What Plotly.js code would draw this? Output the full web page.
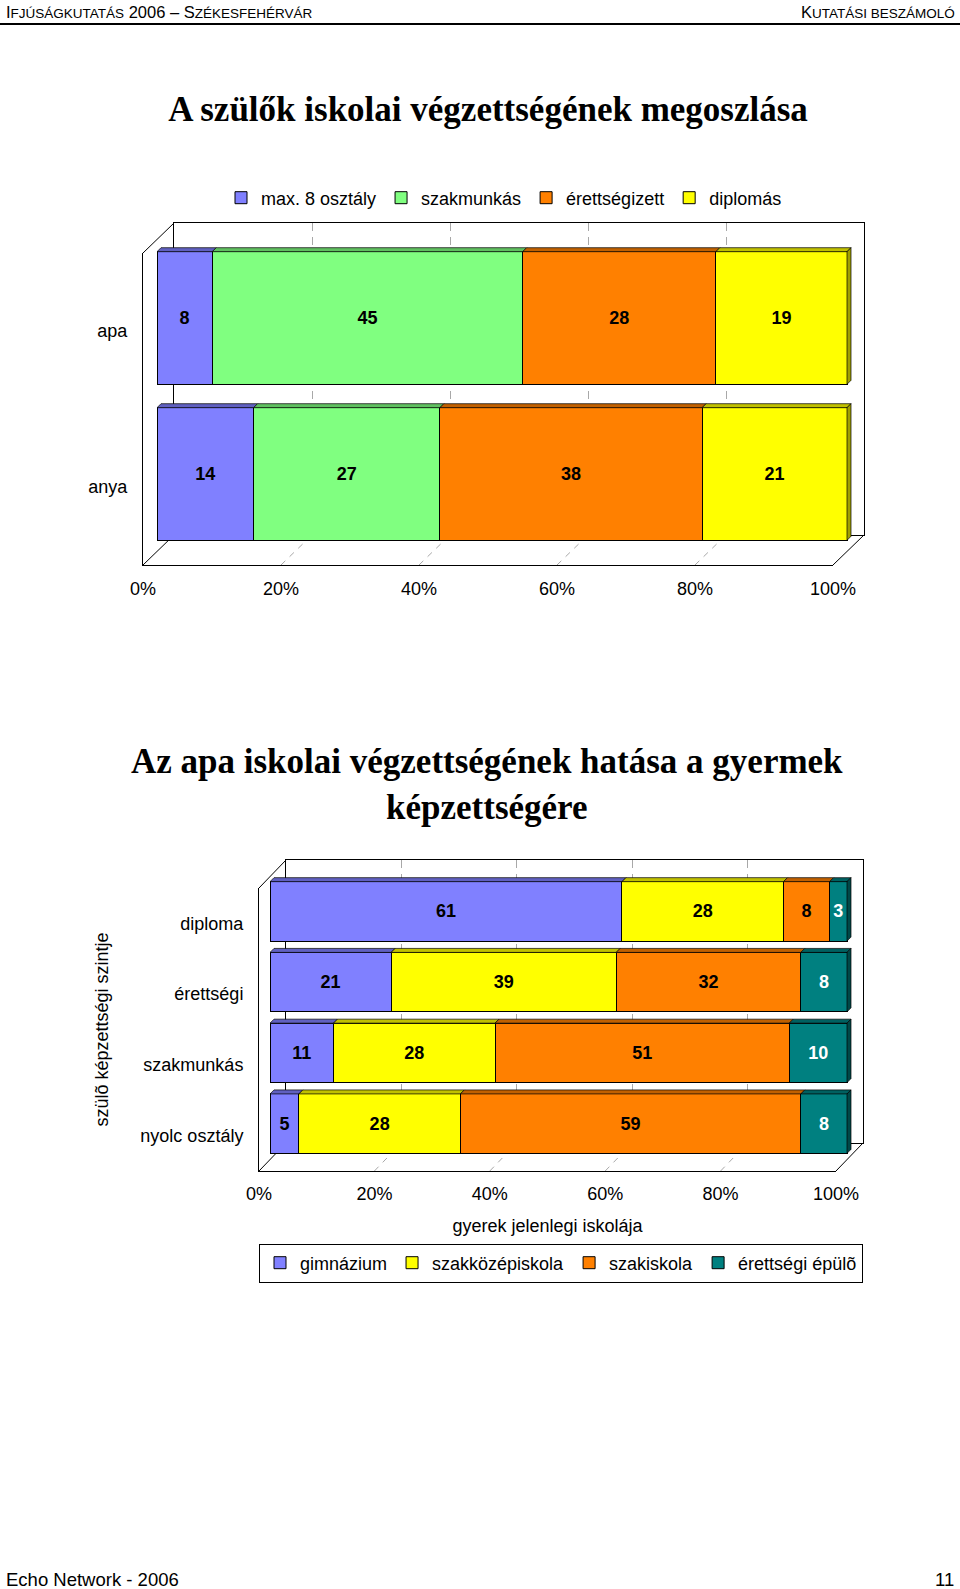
<!DOCTYPE html>
<html><head><meta charset="utf-8">
<script src="https://cdn.plot.ly/plotly-3.0.1.min.js"></script>
<style>html,body{margin:0;padding:0;background:#fff}</style>
</head><body><div id="chart" style="width:960px;height:1589px"></div>
<script>
// ---------------- data ----------------
const parents = ['apa', 'anya'];
const parentSeries = ['max. 8 osztály', 'szakmunkás', 'érettségizett', 'diplomás'];
const max8 = [8, 14];
const szakmunkas = [45, 27];
const erettsegizett = [28, 38];
const diplomas = [19, 21];

const parentLevels = ['diploma', 'érettségi', 'szakmunkás', 'nyolc osztály'];
const childSeries = ['gimnázium', 'szakközépiskola', 'szakiskola', 'érettségi épülõ'];
const gimnazium = [61, 21, 11, 5];
const szakkozep = [28, 39, 28, 28];
const szakiskola = [8, 32, 51, 59];
const erettsegiEpulo = [3, 8, 10, 8];

const pctTicks = [0, 20, 40, 60, 80, 100];
const pctLabels = ['0%', '20%', '40%', '60%', '80%', '100%'];

// ---------------- styling / geometry ----------------
const W = 960, H = 1589;
const px = v => v / W, py = v => 1 - v / H;
const SANS = 'Liberation Sans, Arial, sans-serif';
const SERIF = 'Liberation Serif, Times New Roman, serif';

const G1 = {back:{x0:174,x1:864,y0:223,y1:535}, front:{x0:143,x1:833,y0:253,y1:565}, bars:{x0:157,x1:847,y0:240,y1:552}, barW:0.85, ids:[1,2,3], legend:'legend', xStand:7};
const G2 = {back:{x0:286,x1:863,y0:860,y1:1143}, front:{x0:259,x1:836,y0:888,y1:1171}, bars:{x0:270,x1:847,y0:876,y1:1159}, barW:0.84, ids:[4,5,6], legend:'legend2', xStand:6};
const DEPTH = 4, EXT = 8;
const GRID = '#a8a8a8';

const C = {
  blue:  {f:'#8080FF', t:'#6060C0', s:'#5050A0'},
  green: {f:'#80FF80', t:'#60C060', s:'#50A050'},
  orange:{f:'#FF8000', t:'#C06000', s:'#A05000'},
  yellow:{f:'#FFFF00', t:'#C0C000', s:'#A0A000'},
  teal:  {f:'#008080', t:'#006060', s:'#004848'}
};

const xk = n => n === 1 ? 'xaxis' : 'xaxis' + n;
const yk = n => n === 1 ? 'yaxis' : 'yaxis' + n;
const xid = n => n === 1 ? 'x' : 'x' + n;
const yid = n => n === 1 ? 'y' : 'y' + n;

const data = [];
const layout = {
  width: W, height: H, margin:{l:0,r:0,t:0,b:0},
  paper_bgcolor:'#fff', plot_bgcolor:'rgba(0,0,0,0)',
  barmode:'stack', showlegend:true,
  font:{family:SANS, size:18, color:'#000'},
  title:{text:'A szülők iskolai végzettségének megoszlása', x:px(488), xanchor:'center', y:py(109), yanchor:'middle',
         font:{family:SERIF, size:35, weight:700, color:'#000'}},
  shapes:[], annotations:[]
};

// invisible helper trace so that a frame/label subplot is created and drawn
function anchorTrace(b, xs, ys) {
  data.push({type:'scatter', mode:'markers', x:xs, y:ys, xaxis:xid(b), yaxis:yid(b),
    marker:{opacity:0, size:1}, showlegend:false, hoverinfo:'skip'});
}

function buildChart(G, cats, names, series, cols, txtCols) {
  const [b, bb, f] = G.ids;
  const n = cats.length;
  const pos = cats.map((c, i) => n - 1 - i);
  const unitX = (G.bars.x1 - G.bars.x0) / 100;
  const unitY = (G.bars.y1 - G.bars.y0) / n;
  // back wall (grid + frame)
  layout[xk(b)] = {domain:[px(G.back.x0), px(G.back.x1)], range:[0,100], anchor:yid(b), tickvals:pctTicks,
    showticklabels:false, ticks:'', showgrid:true, gridcolor:GRID, griddash:'8px,6px', gridwidth:1,
    showline:true, mirror:true, linecolor:'#000', linewidth:1, zeroline:false, fixedrange:true};
  layout[yk(b)] = {domain:[py(G.back.y1), py(G.back.y0)], range:[0,1], anchor:xid(b), showgrid:false,
    showticklabels:false, ticks:'', showline:true, mirror:true, linecolor:'#000', linewidth:1, zeroline:false, fixedrange:true};
  anchorTrace(b, [pctTicks[0]], [0]);
  // bars
  layout[xk(bb)] = {domain:[px(G.bars.x0), px(G.bars.x1 + EXT)], range:[0, 100 + EXT / unitX], anchor:yid(bb), visible:false, fixedrange:true};
  layout[yk(bb)] = {domain:[py(G.bars.y1), py(G.bars.y0)], range:[-0.5, n - 0.5], anchor:xid(bb), visible:false, fixedrange:true};
  // front plane: tick labels + front edges
  layout[xk(f)] = {domain:[px(G.front.x0), px(G.front.x1)], range:[0,100], anchor:yid(f), tickvals:pctTicks, ticktext:pctLabels,
    ticks:'', showgrid:false, zeroline:false, showline:true, linecolor:'#000', linewidth:1,
    tickfont:{family:SANS, size:18, color:'#000'}, ticklabelstandoff:G.xStand, fixedrange:true};
  layout[yk(f)] = {domain:[py(G.front.y1), py(G.front.y0)], range:[-0.5, n - 0.5], anchor:xid(f), tickvals:pos, ticktext:cats,
    ticks:'', showgrid:false, zeroline:false, showline:true, linecolor:'#000', linewidth:1,
    tickfont:{family:SANS, size:18, color:'#000'}, ticklabelstandoff:11, fixedrange:true};
  anchorTrace(f, [pctTicks[0]], [pos[0]]);

  series.forEach((vals, i) => {
    data.push({type:'bar', orientation:'h', name:names[i], x:vals, y:pos, width:G.barW,
      xaxis:xid(bb), yaxis:yid(bb), legend:G.legend,
      marker:{color:cols[i].f, line:{color:'#000', width:1}},
      text:vals.map(String), textposition:'inside', insidetextanchor:'middle', textangle:0,
      textfont:{family:SANS, size:18, weight:700, color:txtCols[i]}, hoverinfo:'skip'});
  });

  // 3D faces of bars
  const dX = DEPTH / unitX, dY = DEPTH / unitY;
  pos.forEach((p, j) => {
    const top = p + G.barW / 2, bot = p - G.barW / 2;
    let cum = 0;
    series.forEach((vals, i) => {
      const x0 = cum, x1 = cum + vals[j];
      cum = x1;
      layout.shapes.push({type:'path', xref:xid(bb), yref:yid(bb), layer:'above',
        path:`M${x0},${top} L${x1},${top} L${x1+dX},${top+dY} L${x0+dX},${top+dY} Z`,
        fillcolor:cols[i].t, line:{color:'#000', width:0.7}});
      if (i === series.length - 1) {
        layout.shapes.push({type:'path', xref:xid(bb), yref:yid(bb), layer:'above',
          path:`M${x1},${bot} L${x1},${top} L${x1+dX},${top+dY} L${x1+dX},${bot+dY} Z`,
          fillcolor:cols[i].s, line:{color:'#000', width:0.7}});
      }
    });
  });

  // frame diagonals
  const Fr = G.front, Bk = G.back;
  const seg = (x0, y0, x1, y1, col, dash) => layout.shapes.push({type:'line', xref:'paper', yref:'paper', layer:'below',
    x0:px(x0), y0:py(y0), x1:px(x1), y1:py(y1), line:{color:col, width:1, dash:dash || 'solid'}});
  seg(Fr.x0, Fr.y0, Bk.x0, Bk.y0, '#000');
  seg(Fr.x0, Fr.y1, Bk.x0, Bk.y1, '#000');
  seg(Fr.x1, Fr.y1, Bk.x1, Bk.y1, '#000');
  pctTicks.slice(1, -1).forEach(t => {
    seg(Fr.x0 + (Fr.x1 - Fr.x0) * t / 100, Fr.y1, Bk.x0 + (Bk.x1 - Bk.x0) * t / 100, Bk.y1, GRID, '6px,6px');
  });
}

buildChart(G1, parents, parentSeries, [max8, szakmunkas, erettsegizett, diplomas],
  [C.blue, C.green, C.orange, C.yellow], ['#000', '#000', '#000', '#000']);
buildChart(G2, parentLevels, childSeries, [gimnazium, szakkozep, szakiskola, erettsegiEpulo],
  [C.blue, C.yellow, C.orange, C.teal], ['#000', '#000', '#000', '#fff']);

layout.xaxis6.title = {text:'gyerek jelenlegi iskolája', font:{family:SANS, size:18, color:'#000'}, standoff:16};
layout.yaxis6.title = {text:'szülõ képzettségi szintje', font:{family:SANS, size:18, color:'#000'}, standoff:27};

layout.legend = {orientation:'h', x:px(504), xanchor:'center', y:py(198), yanchor:'middle', traceorder:'normal',
  font:{family:SANS, size:18, color:'#000'}, bgcolor:'rgba(0,0,0,0)'};
layout.legend2 = {orientation:'h', x:px(561), xanchor:'center', y:py(1263), yanchor:'middle', traceorder:'normal',
  font:{family:SANS, size:18, color:'#000'}, bgcolor:'#fff', bordercolor:'#000', borderwidth:1};

// page decorations
layout.shapes.push({type:'line', xref:'paper', yref:'paper', x0:0, x1:1, y0:py(24), y1:py(24), line:{color:'#000', width:2}});
const sm = s => `<span style="font-size:13.5px">${s}</span>`;
layout.annotations.push(
  {text:'I' + sm('FJÚSÁGKUTATÁS') + ' 2006 – S' + sm('ZÉKESFEHÉRVÁR'), xref:'paper', yref:'paper', x:px(4), y:py(12),
   xanchor:'left', yanchor:'middle', showarrow:false, font:{family:SANS, size:16.5, color:'#000'}},
  {text:'K' + sm('UTATÁSI BESZÁMOLÓ'), xref:'paper', yref:'paper', x:px(957), y:py(12),
   xanchor:'right', yanchor:'middle', showarrow:false, font:{family:SANS, size:16.5, color:'#000'}},
  {text:'Az apa iskolai végzettségének hatása a gyermek<br>képzettségére', xref:'paper', yref:'paper', x:px(487), y:py(784),
   xanchor:'center', yanchor:'middle', showarrow:false, font:{family:SERIF, size:35, weight:700, color:'#000'}},
  {text:'Echo Network - 2006', xref:'paper', yref:'paper', x:px(4), y:py(1579), xanchor:'left', yanchor:'middle',
   showarrow:false, font:{family:SANS, size:18.5, color:'#000'}},
  {text:'11', xref:'paper', yref:'paper', x:px(956), y:py(1579), xanchor:'right', yanchor:'middle',
   showarrow:false, font:{family:SANS, size:18.5, color:'#000'}}
);

Plotly.newPlot('chart', data, layout, {staticPlot:true, displayModeBar:false});
</script></body></html>
